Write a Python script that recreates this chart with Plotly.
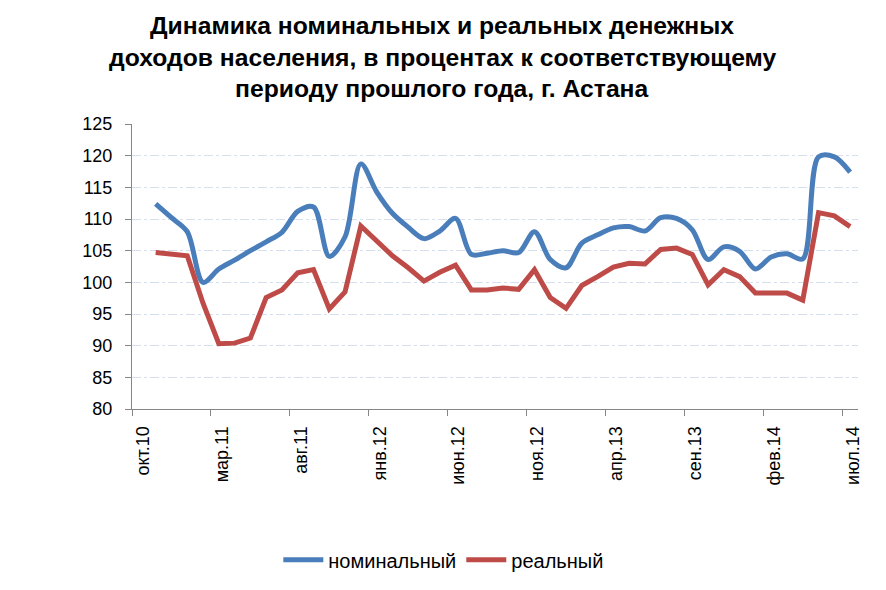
import plotly.graph_objects as go

# Month axis: first slot (окт.10) is empty, data runs ноя.10 .. июл.14
axis_months = ["окт.10", "ноя.10", "дек.10",
               "янв.11", "фев.11", "мар.11", "апр.11", "май.11", "июн.11",
               "июл.11", "авг.11", "сен.11", "окт.11", "ноя.11", "дек.11",
               "янв.12", "фев.12", "мар.12", "апр.12", "май.12", "июн.12",
               "июл.12", "авг.12", "сен.12", "окт.12", "ноя.12", "дек.12",
               "янв.13", "фев.13", "мар.13", "апр.13", "май.13", "июн.13",
               "июл.13", "авг.13", "сен.13", "окт.13", "ноя.13", "дек.13",
               "янв.14", "фев.14", "мар.14", "апр.14", "май.14", "июн.14",
               "июл.14"]

nominal = [112.4, 110.2, 108.0, 100.0, 102.1, 103.5, 105.0, 106.4, 107.9,
           111.2, 111.9, 104.1, 107.2, 118.7, 114.3, 110.9, 108.7, 106.9,
           108.1, 110.1, 104.4, 104.6, 105.0, 104.7, 108.0, 103.6, 102.3,
           106.2, 107.5, 108.6, 108.8, 108.1, 110.2, 110.1, 108.3, 103.6,
           105.6, 104.9, 102.1, 104.0, 104.5, 103.7, 119.8, 119.8, 117.4]

real = [104.7, 104.5, 104.2, 96.7, 90.3, 90.4, 91.2, 97.6, 98.8,
        101.5, 102.0, 95.8, 98.5, 108.9, 106.6, 104.2, 102.3, 100.2,
        101.6, 102.7, 98.8, 98.8, 99.1, 98.9, 102.0, 97.6, 95.9,
        99.5, 100.9, 102.4, 103.0, 102.9, 105.2, 105.4, 104.4, 99.6,
        102.0, 100.9, 98.3, 98.3, 98.3, 97.2, 111.0, 110.5, 108.8]

tick_labels = axis_months[::5]

title_lines = ["Динамика номинальных и реальных денежных",
               "доходов населения, в процентах к соответствующему",
               "периоду прошлого года, г. Астана"]

# each month is a slot of width 1, points sit in the slot middle
x = [axis_months.index(m) + 0.5 for m in axis_months[1:]]
tick_pos = [axis_months.index(t) for t in tick_labels]

fig = go.Figure()
fig.add_trace(go.Scatter(
    x=x, y=nominal, name="номинальный", mode="lines",
    line=dict(color="#4A7EBB", width=5, shape="spline", smoothing=0.9)
))
fig.add_trace(go.Scatter(
    x=x, y=real, name="реальный", mode="lines",
    line=dict(color="#BE4B48", width=5)
))

# title as three separate lines to get Excel-like line spacing
for i, line in enumerate(title_lines):
    fig.add_annotation(
        text=line, xref="paper", yref="paper",
        x=0.4275, y=1.345 - i * 0.1105, xanchor="center", yanchor="middle",
        showarrow=False,
        font=dict(family="Liberation Sans, Arial", size=24.7, color="black",
                  weight="bold")
    )

fig.update_layout(
    width=886, height=590,
    paper_bgcolor="white", plot_bgcolor="white",
    margin=dict(l=124, r=36, t=116, b=189),
    font=dict(family="Liberation Sans, Arial", size=18, color="black"),
    showlegend=True,
    legend=dict(
        orientation="h", x=0.4295, xanchor="center", y=-0.529,
        yanchor="middle", font=dict(size=20), itemwidth=40
    ),
    xaxis=dict(
        range=[0, 46], tickvals=tick_pos, ticktext=tick_labels,
        tickangle=-90, ticks="outside", ticklen=6, tickcolor="#868686",
        showline=True, linecolor="#868686", linewidth=1,
        showgrid=False, zeroline=False, ticklabelshift=11,
        ticklabelstandoff=3, tickfont=dict(size=18)
    ),
    yaxis=dict(
        range=[80, 125], dtick=5, ticks="outside", ticklen=6,
        tickcolor="#868686", showline=True, linecolor="#868686",
        showgrid=True, gridcolor="#D5DFEE", griddash="dashdot", gridwidth=1,
        zeroline=False, ticklabelstandoff=9, tickfont=dict(size=18)
    )
)

fig.write_html("out.html")
